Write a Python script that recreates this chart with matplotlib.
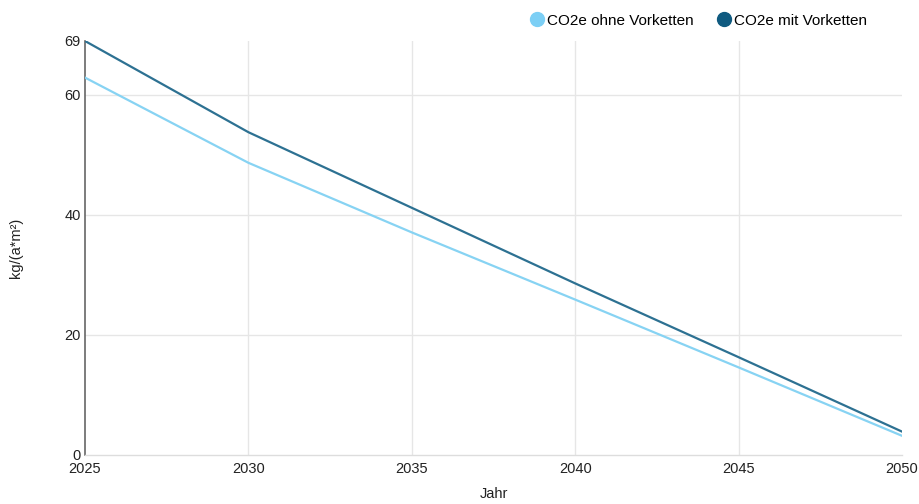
import matplotlib
matplotlib.use('Agg')
import matplotlib.pyplot as plt
from matplotlib.lines import Line2D

plt.rcParams['font.family'] = ['Liberation Sans', 'DejaVu Sans']

years = [2025, 2030, 2035, 2040, 2045, 2050]
co2_ohne = [62.9, 48.7, 37.1, 25.9, 14.6, 3.2]
co2_mit = [69.0, 53.8, 41.2, 28.6, 16.3, 3.9]
y_ticks = [0, 20, 40, 60, 69]
x_ticks = [2025, 2030, 2035, 2040, 2045, 2050]

c_light = '#87d3f3'
c_dark = '#2d7192'
c_light_mk = '#7ccff5'
c_dark_mk = '#0f5a80'

fig = plt.figure(figsize=(9.2, 5.04), dpi=100)
ax = fig.add_axes([85 / 920, 49 / 504, 817 / 920, 414 / 504])

ax.plot(years, co2_ohne, color=c_light, lw=1.6, zorder=3)
ax.plot(years, co2_mit, color=c_dark, lw=1.6, zorder=4)

ax.set_xlim(2025, 2050)
ax.set_ylim(0, 69)
ax.set_xticks(x_ticks)
ax.set_yticks(y_ticks)
ax.tick_params(length=0, labelsize=10.5, colors='#222222')
ax.tick_params(axis='x', pad=5)
ax.tick_params(axis='y', pad=3)

# grid only at inner ticks (no line at 69 or at 2050)
for yv in y_ticks[1:-1]:
    ax.axhline(yv, color='#e6e6e6', lw=1, zorder=0)
for xv in x_ticks[1:-1]:
    ax.axvline(xv, color='#e6e6e6', lw=1, zorder=0)

for s in ['top', 'right']:
    ax.spines[s].set_visible(False)
ax.spines['left'].set_color('#666666')
ax.spines['left'].set_linewidth(1.2)
ax.spines['bottom'].set_color('#dddddd')
ax.spines['bottom'].set_linewidth(1)

ax.set_xlabel('Jahr', fontsize=10.5, color='#222222', labelpad=8)
ax.set_ylabel('kg/(a*m²)', fontsize=10.5, color='#222222', labelpad=30)

handles = [
    Line2D([], [], ls='none', marker='o', ms=10, color=c_light_mk),
    Line2D([], [], ls='none', marker='o', ms=10, color=c_dark_mk),
]
fig.legend(handles, ['CO2e ohne Vorketten', 'CO2e mit Vorketten'],
           loc='upper right', bbox_to_anchor=(0.957, 1.0), ncol=2, frameon=False,
           fontsize=11, handletextpad=0.05, columnspacing=1.4, handlelength=1.2)

fig.savefig('out.png', dpi=100, facecolor='white')
